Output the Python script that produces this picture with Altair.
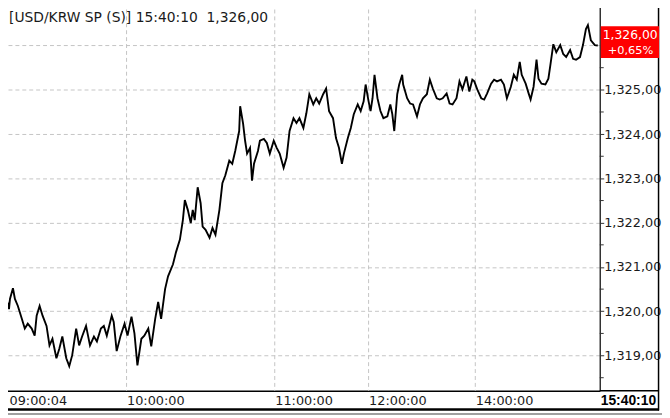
import altair as alt
import pandas as pd

# tick index (position in tick sequence) and price
idx = [0.5, 1, 2, 4, 6, 7, 10, 12, 15, 19, 22, 25, 29, 32, 34, 37, 40, 44, 47, 50,
       54, 57, 60, 64, 67, 70, 74, 77, 80, 84, 88, 92, 95, 99, 102, 105, 110, 112, 115, 119,
       123, 126, 130, 133, 136, 140, 143, 147, 150, 154, 157, 160, 164, 167, 172, 175, 179, 182, 184, 187,
       190, 192, 194, 197, 200, 202, 205, 209, 212, 215, 219, 222, 225, 229, 232, 235, 239, 240, 243, 245,
       247, 250, 252, 254, 258, 260, 264, 267, 270, 274, 277, 280, 284, 287, 290, 294, 297, 300, 304, 307,
       310, 314, 317, 320, 324, 327, 330, 334, 337, 340, 343, 345, 349, 352, 355, 359, 362, 365, 367, 370,
       372, 374, 376, 379, 382, 385, 389, 392, 394, 396, 399, 401, 404, 405, 409, 412, 415, 419, 422, 425,
       429, 432, 435, 439, 442, 445, 449, 452, 455, 459, 462, 465, 469, 472, 475, 477, 480, 484, 487, 490,
       494, 497, 500, 504, 507, 510, 514, 517, 520, 523, 525, 529, 532, 534, 537, 540, 542, 545, 549, 552,
       554, 557, 560, 564, 567, 570, 574, 577, 580, 584, 587, 590, 592, 595, 599, 602]
val = [1319.27, 1320.95, 1319.83, 1320.23, 1320.05, 1320.28, 1320.52, 1320.28, 1320.12, 1319.83,
       1319.61, 1319.72, 1319.61, 1319.45, 1319.90, 1320.12, 1319.90, 1319.67, 1319.23, 1319.38,
       1318.94, 1319.16, 1319.43, 1318.94, 1318.76, 1319.01, 1319.61, 1319.23, 1319.43, 1319.67,
       1319.23, 1319.43, 1319.32, 1319.61, 1319.67, 1319.45, 1319.90, 1319.76, 1319.10, 1319.45,
       1319.72, 1319.45, 1319.88, 1319.50, 1318.78, 1319.38, 1319.45, 1319.61, 1319.21, 1319.83,
       1320.21, 1319.83, 1320.50, 1320.79, 1321.06, 1321.33, 1321.62, 1322.06, 1322.51, 1322.29,
       1321.99, 1322.29, 1322.06, 1322.80, 1322.44, 1321.91, 1321.84, 1321.66, 1321.88, 1321.73,
       1322.29, 1322.89, 1323.07, 1323.40, 1323.33, 1323.62, 1324.07, 1324.63, 1324.23, 1323.85,
       1323.56, 1323.69, 1322.95, 1323.33, 1323.62, 1323.85, 1323.89, 1323.80, 1323.56, 1323.85,
       1323.69, 1323.56, 1323.24, 1323.47, 1324.07, 1324.36, 1324.25, 1324.36, 1324.14, 1324.47,
       1324.90, 1324.67, 1324.81, 1324.69, 1324.90, 1325.03, 1324.52, 1324.36, 1323.91, 1323.69,
       1323.33, 1323.56, 1323.91, 1324.14, 1324.45, 1324.67, 1324.52, 1324.74, 1325.12, 1324.74,
       1324.52, 1324.81, 1325.34, 1324.81, 1324.52, 1324.36, 1324.40, 1324.67, 1324.45, 1324.07,
       1324.90, 1325.12, 1325.34, 1325.12, 1324.81, 1324.69, 1324.67, 1324.40, 1324.67, 1324.81,
       1324.90, 1325.23, 1325.03, 1324.81, 1324.78, 1324.81, 1324.92, 1324.69, 1324.67, 1324.81,
       1325.19, 1325.01, 1325.30, 1324.96, 1325.23, 1325.19, 1325.01, 1324.81, 1324.78, 1324.92,
       1325.14, 1325.23, 1325.19, 1325.23, 1325.12, 1324.81, 1325.07, 1325.34, 1325.23, 1325.63,
       1325.34, 1325.14, 1324.92, 1324.78, 1325.07, 1325.68, 1325.25, 1325.14, 1325.12, 1325.25,
       1325.56, 1326.03, 1325.85, 1326.01, 1325.81, 1325.74, 1325.90, 1325.70, 1325.68, 1325.74,
       1326.01, 1326.37, 1326.46, 1326.12, 1326.01, 1326.00]

tick_idx = [6, 125, 275, 370, 478]
tick_lbl = ["09:00:04", "10:00:00", "11:00:00", "12:00:00", "14:00:00"]
grid_idx = [125, 275, 370, 478]
y_ticks = [1319, 1320, 1321, 1322, 1323, 1324, 1325, 1326]
y_minor = [1318.5, 1319.5, 1320.5, 1321.5, 1322.5, 1323.5, 1324.5, 1325.5]

title_txt = "[USD/KRW SP (S)] 15:40:10\u00a0 1,326,00"
last_txt = "1,326,00"
chg_txt = "+0,65%"
end_time = "15:40:10"

W, H = 604, 393
FONT = "DejaVu Sans"
GRID = "#c4c4c4"

df = pd.DataFrame({"idx": idx, "v": val})

x_expr = " : ".join(f"datum.value == {i} ? '{l}'" for i, l in zip(tick_idx, tick_lbl)) + " : ''"
y_expr = "datum.value >= 1326 ? '' : replace(format(datum.value, ',.2f'), '.', ',')"

line = alt.Chart(df).mark_line(color="black", strokeWidth=1.9).encode(
    x=alt.X("idx:Q", scale=alt.Scale(domain=[0, 604], nice=False, zero=False),
            axis=alt.Axis(values=tick_idx, labelExpr=x_expr, title=None, grid=False,
                          ticks=False, tickSize=0,
                          domainColor="black", domainWidth=1.5, labelAlign="left",
                          labelBaseline="middle", labelPadding=10, labelFont=FONT,
                          labelFontSize=13, labelColor="#1a1a1a", labelFlush=False,
                          labelOverlap=False)),
    y=alt.Y("v:Q", scale=alt.Scale(domain=[1318.204, 1326.97], nice=False, zero=False),
            axis=alt.Axis(orient="right", values=y_ticks, labelExpr=y_expr, title=None,
                          grid=True, gridDash=[4, 3], gridColor=GRID, tickSize=4,
                          tickColor="#333333", domainColor="#333333", domainWidth=1.5,
                          labelPadding=0, labelAlign="left", labelBaseline="middle",
                          labelFont=FONT, labelFontSize=13, labelColor="#1a1a1a",
                          labelFlush=False, labelOverlap=False)),
)

vgrid = alt.Chart(pd.DataFrame({"g": grid_idx})).mark_rule(
    color=GRID, strokeDash=[4, 3], strokeWidth=1).encode(
    x="g:Q", y=alt.value(0), y2=alt.value(H))

minor = alt.Chart(pd.DataFrame({"m": y_minor})).mark_rule(color="#333333", strokeWidth=1).encode(
    y="m:Q", x=alt.value(W), x2=alt.value(W + 4))

one = pd.DataFrame({"a": [0]})

xline_ext = alt.Chart(one).mark_rule(color="black", strokeWidth=1.5).encode(
    x=alt.value(W), x2=alt.value(664), y=alt.value(H))
bottom_line = alt.Chart(one).mark_rule(color="black", strokeWidth=2.5).encode(
    x=alt.value(0), x2=alt.value(664), y=alt.value(412))
gray_line = alt.Chart(one).mark_rule(color="#a0a0a0", strokeWidth=2).encode(
    x=alt.value(0), x2=alt.value(670), y=alt.value(416.5))
right_frame = alt.Chart(one).mark_rule(color="black", strokeWidth=1.5).encode(
    x=alt.value(663.5), y=alt.value(0), y2=alt.value(413))

title = alt.Chart(pd.DataFrame({"t": [title_txt]})).mark_text(
    align="left", baseline="middle", font=FONT, fontSize=14, color="#1a1a1a").encode(
    text="t:N", x=alt.value(6), y=alt.value(16))

box = alt.Chart(one).mark_rect(color="#ff0000").encode(
    x=alt.value(605), x2=alt.value(664), y=alt.value(24), y2=alt.value(56))
last_lbl = alt.Chart(pd.DataFrame({"t": [last_txt]})).mark_text(
    align="left", baseline="middle", font=FONT, fontSize=12.5, color="white").encode(
    text="t:N", x=alt.value(607), y=alt.value(33))
chg_lbl = alt.Chart(pd.DataFrame({"t": [chg_txt]})).mark_text(
    align="left", baseline="middle", font=FONT, fontSize=11.5, color="white").encode(
    text="t:N", x=alt.value(612), y=alt.value(49))
end_lbl = alt.Chart(pd.DataFrame({"t": [end_time]})).mark_text(
    align="right", baseline="middle", font="Liberation Sans", fontSize=14,
    fontWeight="bold", color="black").encode(
    text="t:N", x=alt.value(661), y=alt.value(403))

chart = alt.layer(
    vgrid, line, minor, xline_ext, bottom_line, gray_line, right_frame, title,
    box, last_lbl, chg_lbl, end_lbl
).properties(
    width=W, height=H,
    autosize=alt.AutoSizeParams(type="none"),
    padding={"left": -5, "top": -8, "right": 63, "bottom": 25},
    background="white",
).configure_view(stroke=None)

chart.save("out.html", embed_options={"renderer": "svg", "actions": False})
